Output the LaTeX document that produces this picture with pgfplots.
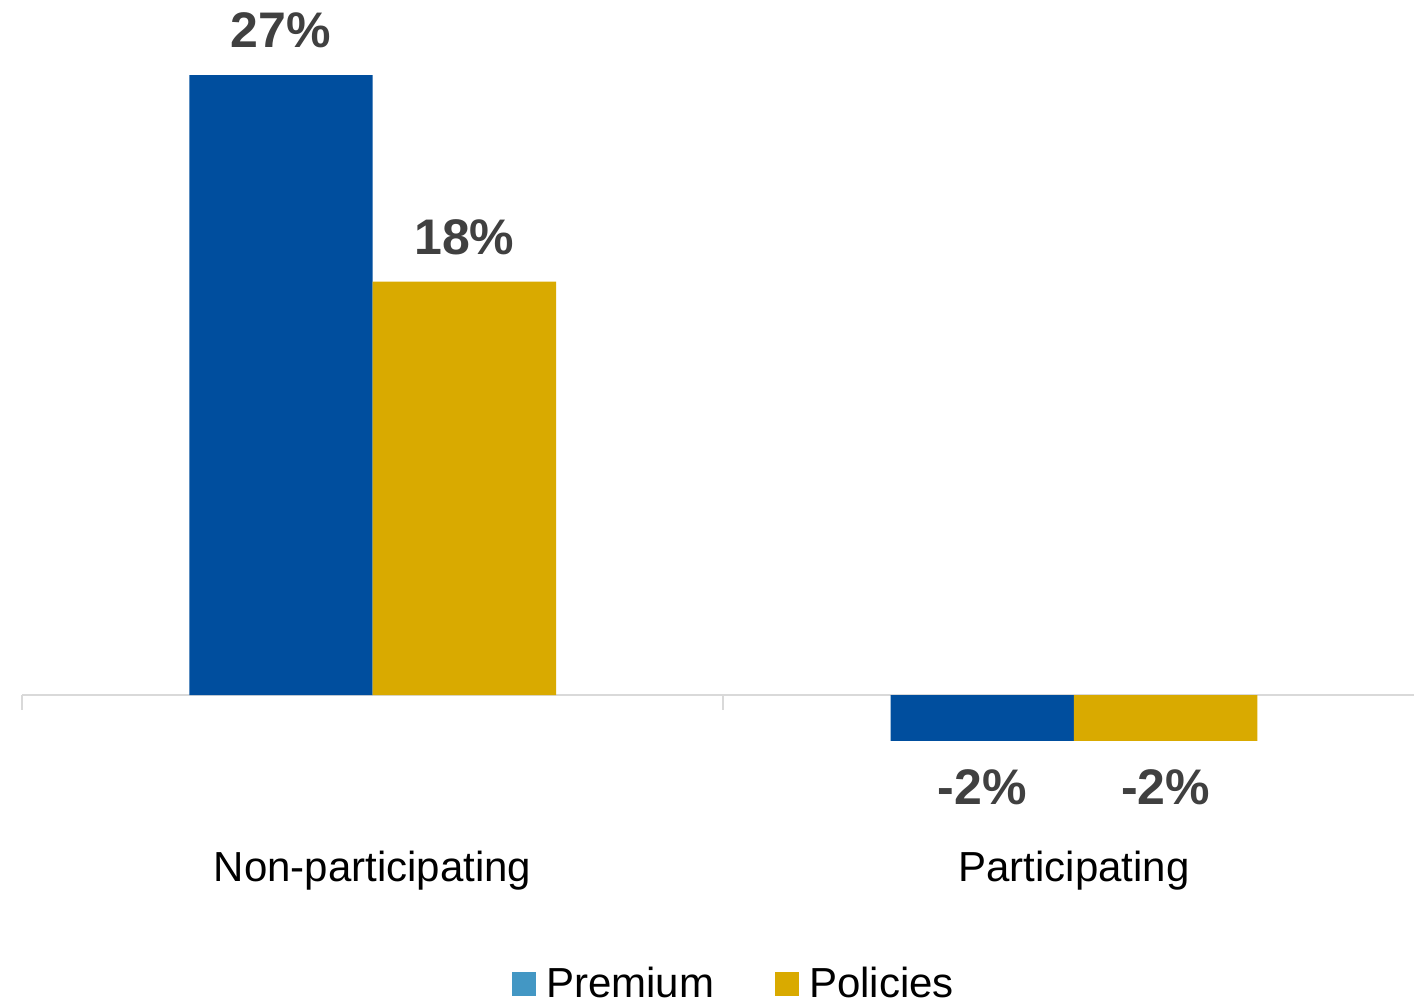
\documentclass[border=0pt]{standalone}
\usepackage{pgfplots}
\pgfplotsset{compat=1.18}
\usepackage{fontspec}
\setmainfont{Liberation Sans}
\definecolor{cblue}{HTML}{004E9E}
\definecolor{cgold}{HTML}{D9AA00}
\definecolor{clight}{HTML}{4397C4}
\definecolor{lbl}{HTML}{404040}
\definecolor{axgray}{HTML}{D9D9D9}
\begin{document}
\begin{tikzpicture}
\useasboundingbox (-11pt,-132pt) rectangle (696pt,370.5pt);
\begin{axis}[
  scale only axis,
  width=696pt, height=332.96pt,
  xmin=-0.5, xmax=1.48502,
  ymin=-2, ymax=27,
  axis lines=none,
  clip=false,
  ybar, bar width=0.2615,
  point meta=y,
  nodes near coords={\pgfmathprintnumber[assume math mode=true]{\pgfplotspointmeta}\%},
  nodes near coords align={vertical},
  every node near coord/.append style={font=\fontsize{25}{30}\bfseries\selectfont, text=lbl, inner xsep=0pt, inner ysep=13.5pt, text height=18pt, text depth=0pt},
  legend columns=2,
  legend style={at={(axis cs:0.521,-12.58)}, anchor=center, draw=none, fill=none,
    font=\fontsize{21}{25}\selectfont, inner sep=0pt,
    /tikz/every even column/.append style={column sep=25.5pt},
    nodes={inner xsep=5pt, inner ysep=0pt}},
  legend image code/.code={\fill[#1] (0pt,-6pt) rectangle (12pt,6pt);},
]
\draw[axgray, line width=1pt] (axis cs:-0.5,0) -- (axis cs:1.48502,0);
\draw[axgray, line width=1pt] (axis cs:-0.5,0) -- (axis cs:-0.5,-0.653);
\draw[axgray, line width=1pt] (axis cs:0.5,0) -- (axis cs:0.5,-0.653);
\addplot[fill=cblue, draw=none, bar shift=-0.13075, forget plot] coordinates {(0,27) (1,-2)};
\addplot[fill=cgold, draw=none, bar shift=0.13075, forget plot] coordinates {(0,18) (1,-2)};
\addlegendimage{fill=clight, draw=none}
\addlegendentry{Premium}
\addlegendimage{fill=cgold, draw=none}
\addlegendentry{Policies}
\node[anchor=base, font=\fontsize{21}{25}\selectfont, inner sep=0pt] at (axis cs:0,-8.14) {Non-participating};
\node[anchor=base, font=\fontsize{21}{25}\selectfont, inner sep=0pt] at (axis cs:1,-8.14) {Participating};
\end{axis}
\end{tikzpicture}
\end{document}
